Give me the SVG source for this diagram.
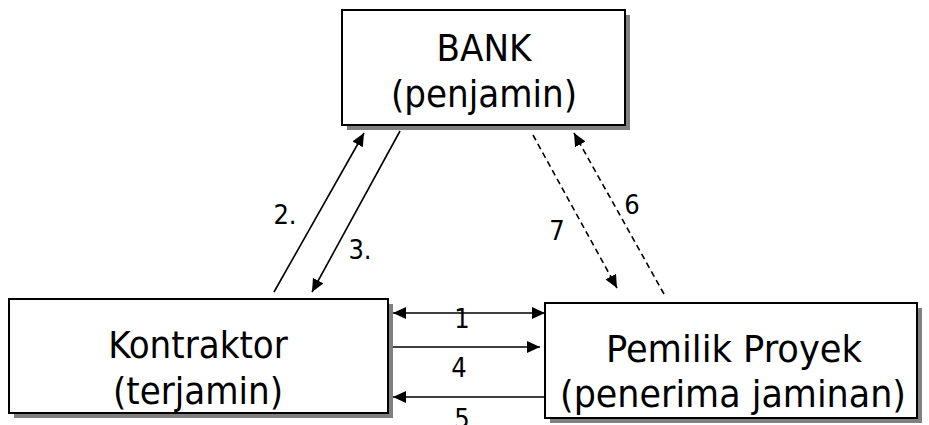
<svg xmlns="http://www.w3.org/2000/svg" width="929" height="425" viewBox="0 0 929 425">
<style>
.shadow{fill:#808080;stroke:none}
.box{fill:#ffffff;stroke:#000000;stroke-width:2}
.t{font-family:"DejaVu Sans Condensed","DejaVu Sans",sans-serif;font-stretch:condensed;font-size:38px;fill:#000;text-anchor:middle}
.lbl{font-family:"DejaVu Sans Condensed","DejaVu Sans",sans-serif;font-stretch:condensed;font-size:27px;fill:#000;text-anchor:middle}
.c{stroke:#000;stroke-width:1.6;fill:none}
.d{stroke:#000;stroke-width:1.6;fill:none;stroke-dasharray:6 4}
</style>
<defs>
<marker id="ah" markerUnits="userSpaceOnUse" markerWidth="14" markerHeight="14" refX="13" refY="6" orient="auto-start-reverse">
<path d="M0,0 L13,6 L0,12 z" fill="#000"/>
</marker>
</defs>
<g id="bank">
<rect class="shadow" x="347" y="15" width="283" height="115"/>
<rect class="box" x="342" y="10" width="283" height="115"/>
<text class="t" x="484" y="61">BANK</text>
<text class="t" x="484" y="107">(penjamin)</text>
</g>
<g id="kontraktor">
<rect class="shadow" x="14" y="304" width="379" height="114"/>
<rect class="box" x="9" y="299" width="379" height="114"/>
<text class="t" x="198" y="358">Kontraktor</text>
<text class="t" x="198" y="404">(terjamin)</text>
</g>
<g id="pemilik">
<rect class="shadow" x="550" y="308" width="372" height="115"/>
<rect class="box" x="545" y="303" width="372" height="115"/>
<text class="t" x="734" y="362" textLength="256" lengthAdjust="spacingAndGlyphs">Pemilik Proyek</text>
<text class="t" x="733" y="407" textLength="346" lengthAdjust="spacingAndGlyphs">(penerima jaminan)</text>
</g>
<g id="connectors">
<line class="c" x1="393" y1="313" x2="545" y2="313" marker-start="url(#ah)" marker-end="url(#ah)"/>
<line class="c" x1="393" y1="347" x2="540" y2="347" marker-end="url(#ah)"/>
<line class="c" x1="544" y1="397" x2="393" y2="397" marker-end="url(#ah)"/>
<line class="c" x1="274" y1="292" x2="364" y2="133" marker-end="url(#ah)"/>
<line class="c" x1="400" y1="131" x2="312" y2="292" marker-end="url(#ah)"/>
<line class="d" x1="533" y1="135" x2="617" y2="288" marker-end="url(#ah)"/>
<line class="d" x1="664" y1="294" x2="574" y2="133" marker-end="url(#ah)"/>
<text class="lbl" x="462" y="328">1</text>
<text class="lbl" x="459" y="377">4</text>
<text class="lbl" x="462" y="428">5</text>
<text class="lbl" x="285" y="224">2.</text>
<text class="lbl" x="360" y="259">3.</text>
<text class="lbl" x="557" y="240">7</text>
<text class="lbl" x="632" y="214">6</text>
</g>
</svg>
